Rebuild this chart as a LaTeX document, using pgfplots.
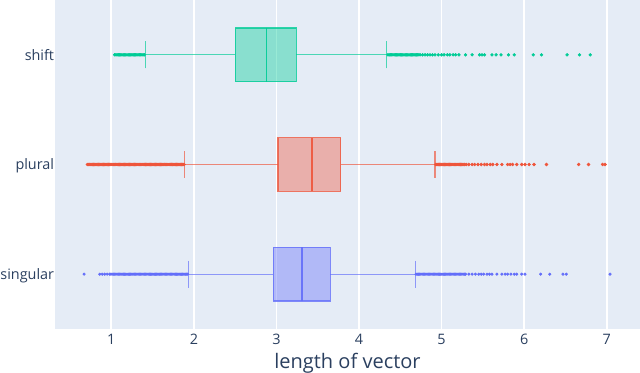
\documentclass[border=0pt]{standalone}
\usepackage{fontspec}
\setmainfont{Open Sans}
\usepackage{pgfplots}
\pgfplotsset{compat=1.18}
\usepgfplotslibrary{statistics}
\definecolor{bgc}{HTML}{E5ECF6}
\definecolor{txt}{HTML}{2A3F5F}
\definecolor{cshift}{HTML}{00CC96}
\definecolor{cplural}{HTML}{EF553B}
\definecolor{csing}{HTML}{636EFA}

\begin{document}
\begin{tikzpicture}
\begin{axis}[
  scale only axis, width=438.75pt, height=246.75pt,
  at={(0,0)}, anchor=south west,
  xmin=0.318, xmax=7.403, ymin=-0.5, ymax=2.5,
  axis background/.style={fill=bgc},
  axis line style={draw=none},
  major tick length=0pt,
  xtick={1,2,3,4,5,6,7},
  ytick={0,1,2}, yticklabels={singular,plural,shift},
  xmajorgrids, grid style={white, line width=1.3pt},
  /pgf/number format/assume math mode=true,
  xticklabel style={font=\fontsize{10.8}{12}\selectfont, text=txt, anchor=base, yshift=-11.8pt},
  yticklabel style={font=\fontsize{10.8}{12}\selectfont, text=txt, anchor=base east, inner xsep=0.5pt, yshift=-3.9pt},
  xlabel={length of vector},
  xlabel style={font=\fontsize{15}{18}\selectfont, text=txt, at={(axis description cs:0.5,0)}, anchor=base, yshift=-29.4pt},
  boxplot/draw direction=x,
  boxplot/every whisker/.style={draw opacity=0.65, line width=0.8pt},
  boxplot/every box/.style={draw opacity=0.8},
  boxplot/every median/.style={draw opacity=0.9},
]
% shift
\addplot[draw=cshift, line width=0.9pt, fill=cshift, fill opacity=0.4,
  boxplot prepared={lower whisker=1.41, lower quartile=2.50, median=2.88,
    upper quartile=3.24, upper whisker=4.33, draw position=2,
    box extend=0.49, whisker extend=0.245}] coordinates {};
\addplot[only marks, mark=*, mark size=1.05pt, color=cshift] coordinates {
(1.040,2)(1.055,2)(1.070,2)(1.085,2)(1.100,2)(1.115,2)(1.130,2)(1.145,2)(1.160,2)
(1.175,2)(1.190,2)(1.205,2)(1.220,2)(1.235,2)(1.250,2)(1.265,2)(1.280,2)(1.295,2)
(1.310,2)(1.325,2)(1.340,2)(1.355,2)(1.370,2)(1.385,2)(1.400,2)
(4.350,2)(4.365,2)(4.380,2)(4.395,2)(4.410,2)(4.425,2)(4.440,2)(4.455,2)(4.470,2)
(4.485,2)(4.500,2)(4.515,2)(4.530,2)(4.545,2)(4.560,2)(4.575,2)(4.590,2)(4.605,2)
(4.620,2)(4.635,2)(4.650,2)(4.665,2)(4.680,2)(4.695,2)(4.710,2)(4.725,2)(4.740,2)
(4.77,2)(4.80,2)(4.83,2)(4.86,2)(4.89,2)(4.92,2)
(4.96,2)(5.00,2)(5.03,2)(5.07,2)(5.10,2)(5.14,2)(5.17,2)(5.21,2)(5.29,2)(5.37,2)
(5.46,2)(5.49,2)(5.52,2)(5.61,2)(5.66,2)(5.72,2)(5.81,2)(5.88,2)
(6.11,2)(6.21,2)(6.52,2)(6.67,2)(6.80,2)
};
% plural
\addplot[draw=cplural, line width=0.9pt, fill=cplural, fill opacity=0.4,
  boxplot prepared={lower whisker=1.89, lower quartile=3.02, median=3.43,
    upper quartile=3.78, upper whisker=4.92, draw position=1,
    box extend=0.49, whisker extend=0.245}] coordinates {};
\addplot[only marks, mark=*, mark size=1.1pt, color=cplural] coordinates {
(0.710,1)(0.725,1)(0.740,1)(0.755,1)(0.770,1)(0.785,1)(0.800,1)(0.815,1)(0.830,1)
(0.845,1)(0.860,1)(0.875,1)(0.890,1)(0.905,1)(0.920,1)(0.935,1)(0.950,1)(0.965,1)
(0.980,1)(0.995,1)(1.010,1)(1.025,1)(1.040,1)(1.055,1)(1.070,1)(1.085,1)(1.100,1)
(1.115,1)(1.130,1)(1.145,1)(1.160,1)(1.175,1)(1.190,1)(1.205,1)(1.220,1)(1.235,1)
(1.250,1)(1.265,1)(1.280,1)(1.295,1)(1.310,1)(1.325,1)(1.340,1)(1.355,1)(1.370,1)
(1.385,1)(1.400,1)(1.415,1)(1.430,1)(1.445,1)(1.460,1)(1.475,1)(1.490,1)(1.505,1)
(1.520,1)(1.535,1)(1.550,1)(1.565,1)(1.580,1)(1.595,1)(1.610,1)(1.625,1)(1.640,1)
(1.655,1)(1.670,1)(1.685,1)(1.700,1)(1.715,1)(1.730,1)(1.745,1)(1.760,1)(1.775,1)
(1.790,1)(1.805,1)(1.820,1)(1.835,1)(1.850,1)(1.865,1)(1.880,1)
(4.930,1)(4.945,1)(4.960,1)(4.975,1)(4.990,1)(5.005,1)(5.020,1)(5.035,1)(5.050,1)
(5.065,1)(5.080,1)(5.095,1)(5.110,1)(5.125,1)(5.140,1)(5.155,1)(5.170,1)(5.185,1)
(5.200,1)(5.215,1)(5.230,1)(5.245,1)(5.260,1)
(5.28,1)(5.30,1)(5.33,1)(5.37,1)(5.40,1)(5.44,1)(5.48,1)(5.52,1)(5.55,1)
(5.59,1)(5.62,1)(5.67,1)(5.73,1)(5.80,1)(5.83,1)(5.86,1)(5.91,1)(5.97,1)(6.01,1)
(6.06,1)(6.12,1)(6.27,1)(6.66,1)(6.78,1)(6.95,1)(6.98,1)
};
% singular
\addplot[draw=csing, line width=0.9pt, fill=csing, fill opacity=0.4,
  boxplot prepared={lower whisker=1.94, lower quartile=2.96, median=3.31,
    upper quartile=3.65, upper whisker=4.68, draw position=0,
    box extend=0.49, whisker extend=0.245}] coordinates {};
\addplot[only marks, mark=*, mark size=0.95pt, color=csing] coordinates {
(0.67,0)(0.86,0)(0.89,0)(0.92,0)(0.95,0)
(0.980,0)(0.995,0)(1.010,0)(1.025,0)(1.040,0)(1.055,0)(1.070,0)(1.085,0)(1.100,0)
(1.115,0)(1.130,0)(1.145,0)(1.160,0)(1.175,0)(1.190,0)(1.205,0)(1.220,0)(1.235,0)
(1.250,0)(1.265,0)(1.280,0)(1.295,0)(1.310,0)(1.325,0)(1.340,0)(1.355,0)(1.370,0)
(1.385,0)(1.400,0)(1.415,0)(1.430,0)(1.445,0)(1.460,0)(1.475,0)(1.490,0)(1.505,0)
(1.520,0)(1.535,0)(1.550,0)(1.565,0)(1.580,0)(1.595,0)(1.610,0)(1.625,0)(1.640,0)
(1.655,0)(1.670,0)(1.685,0)(1.700,0)(1.715,0)(1.730,0)(1.745,0)(1.760,0)(1.775,0)
(1.790,0)(1.805,0)(1.820,0)(1.835,0)(1.850,0)(1.865,0)(1.880,0)(1.895,0)(1.910,0)
(1.925,0)
(4.690,0)(4.705,0)(4.720,0)(4.735,0)(4.750,0)(4.765,0)(4.780,0)(4.795,0)(4.810,0)
(4.825,0)(4.840,0)(4.855,0)(4.870,0)(4.885,0)(4.900,0)(4.915,0)(4.930,0)(4.945,0)
(4.960,0)(4.975,0)(4.990,0)(5.005,0)(5.020,0)(5.035,0)(5.050,0)(5.065,0)(5.080,0)
(5.095,0)(5.110,0)(5.125,0)(5.140,0)(5.155,0)(5.170,0)(5.185,0)(5.200,0)(5.215,0)
(5.230,0)(5.245,0)(5.260,0)(5.275,0)(5.290,0)
(5.33,0)(5.37,0)(5.41,0)(5.45,0)(5.48,0)(5.51,0)(5.55,0)(5.58,0)(5.61,0)
(5.67,0)(5.73,0)(5.77,0)(5.80,0)(5.84,0)(5.88,0)(5.91,0)(5.97,0)(6.01,0)(6.20,0)
(6.31,0)(6.47,0)(6.51,0)(7.04,0)
};
\end{axis}
\pgfresetboundingbox
\path[use as bounding box] (-41.25pt,-33pt) rectangle (438.75pt,246.75pt);
\end{tikzpicture}
\end{document}
